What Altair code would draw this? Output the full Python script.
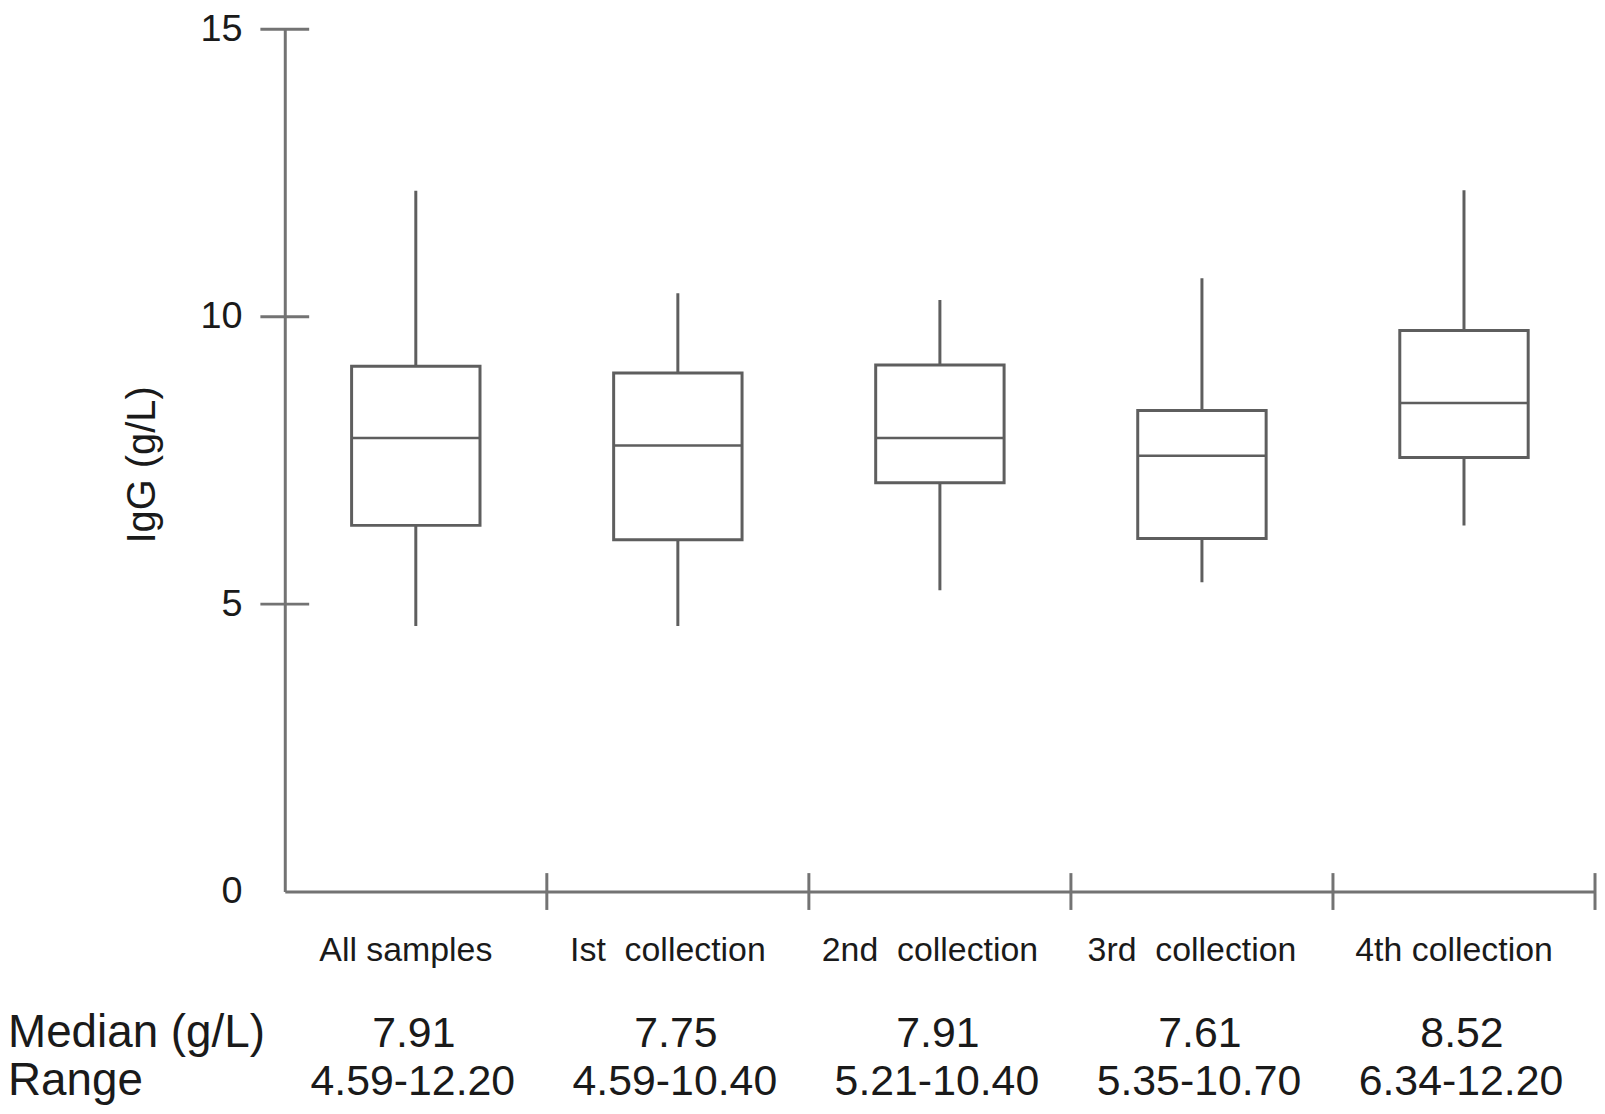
import altair as alt
import pandas as pd

categories = ["All samples", "Ist\u00a0\u00a0collection", "2nd\u00a0\u00a0collection",
              "3rd\u00a0\u00a0collection", "4th collection"]
whisker_low = [4.62, 4.62, 5.24, 5.38, 6.37]
q1 = [6.37, 6.12, 7.11, 6.14, 7.55]
median = [7.89, 7.76, 7.89, 7.58, 8.50]
q3 = [9.14, 9.02, 9.16, 8.37, 9.76]
whisker_high = [12.19, 10.41, 10.29, 10.67, 12.20]
median_labels = ["7.91", "7.75", "7.91", "7.61", "8.52"]
range_labels = ["4.59-12.20", "4.59-10.40", "5.21-10.40", "5.35-10.70", "6.34-12.20"]
row_labels = ["Median (g/L)", "Range"]
y_tick_values = [5, 10, 15]
y_label_values = [0, 5, 10, 15]

FONT = "Liberation Sans"
LINE = "#5e5e5e"
AXIS = "#737373"
TEXT = "#1a1a1a"

df = pd.DataFrame({
    "cat": categories, "low": whisker_low, "q1": q1, "med": median,
    "q3": q3, "high": whisker_high, "mlab": median_labels, "rlab": range_labels,
})

xscale = alt.Scale(type="band", paddingInner=0, paddingOuter=0, domain=categories)
yscale = alt.Scale(domain=[0, 15], nice=False, zero=True)

X = alt.X("cat:N", scale=xscale, sort=categories,
          axis=alt.Axis(labels=False, ticks=False, title=None, domainColor=AXIS,
                        domainWidth=3, grid=False))
Y_axis = alt.Axis(values=y_label_values, format="d", ticks=False, tickSize=0, grid=False,
                  labelFontSize=38, labelFont=FONT, labelColor=TEXT, labelPadding=43,
                  domainColor=AXIS, domainWidth=3,
                  title="IgG (g/L)", titleFont=FONT, titleFontSize=40,
                  titleFontWeight="normal", titleColor=TEXT, titleX=-131, titleY=437,
                  titleAngle=-90, titleAlign="center", titleBaseline="alphabetic")

base = alt.Chart(df)

whisker = base.mark_rule(color=LINE, strokeWidth=3).encode(
    x=X, y=alt.Y("low:Q", scale=yscale, axis=Y_axis), y2="high:Q")

box = base.mark_bar(fill="white", stroke=LINE, strokeWidth=3,
                    width=alt.RelativeBandSize(0.49)).encode(
    x=X, y=alt.Y("q1:Q", scale=yscale), y2="q3:Q")

med = base.mark_tick(color=LINE, opacity=1, thickness=2.5, size=129,
                     orient="horizontal").encode(
    x=X, y=alt.Y("med:Q", scale=yscale))

cat_text = base.mark_text(font=FONT, fontSize=34, color=TEXT, baseline="alphabetic",
                          dx=-10).encode(
    x=X, y=alt.value(936), text="cat:N")

med_text = base.mark_text(font=FONT, fontSize=43, color=TEXT, baseline="alphabetic",
                          dx=-2).encode(
    x=X, y=alt.value(1022), text="mlab:N")

rng_text = base.mark_text(font=FONT, fontSize=43, color=TEXT, baseline="alphabetic",
                          dx=-3).encode(
    x=X, y=alt.value(1070), text="rlab:N")

rows = pd.DataFrame({"lab": row_labels, "i": [0, 1]})
row1 = alt.Chart(rows).transform_filter(alt.datum.i == 0).mark_text(
    font=FONT, fontSize=46, color=TEXT, align="left", baseline="alphabetic").encode(
    x=alt.value(-278), y=alt.value(1022), text="lab:N")
row2 = alt.Chart(rows).transform_filter(alt.datum.i == 1).mark_text(
    font=FONT, fontSize=46, color=TEXT, align="left", baseline="alphabetic").encode(
    x=alt.value(-278), y=alt.value(1070), text="lab:N")

yt = alt.Chart(pd.DataFrame({"v": y_tick_values})).mark_tick(
    color=AXIS, opacity=1, thickness=3, size=49, orient="horizontal").encode(
    x=alt.value(0), y=alt.Y("v:Q", scale=yscale))

xt = alt.Chart(pd.DataFrame({"cat": categories})).mark_tick(
    color=AXIS, opacity=1, thickness=3, size=37, orient="vertical").encode(
    x=alt.X("cat:N", scale=xscale, sort=categories, bandPosition=1),
    y=alt.value(866))

chart = alt.layer(whisker, box, med, yt, xt, cat_text, med_text, rng_text, row1, row2).properties(
    width=1316, height=866,
    padding={"left": 278, "top": 19, "right": 2, "bottom": 213},
    autosize=alt.AutoSizeParams(type="none"),
    background="white",
).configure_view(stroke=None)

chart.save("out.html", embed_options={"renderer": "svg", "actions": False})
